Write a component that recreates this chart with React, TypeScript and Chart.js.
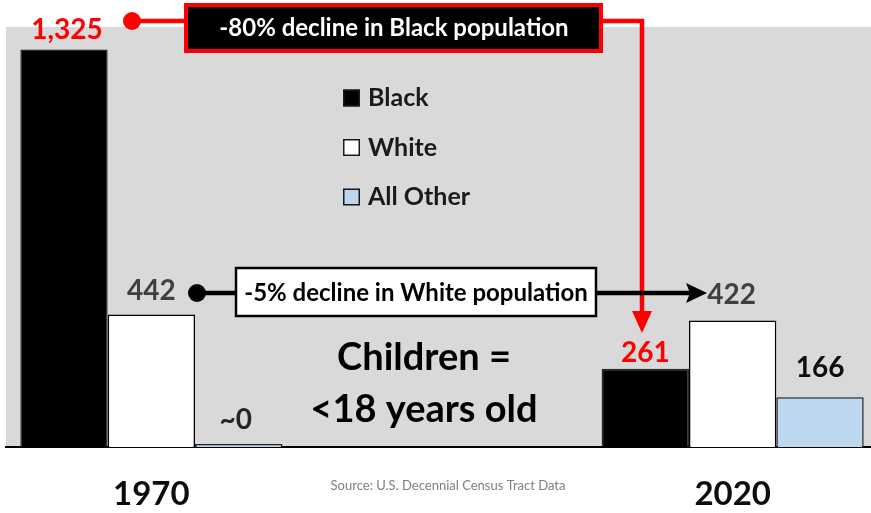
import React, { useEffect, useRef } from 'react';
import { Chart, registerables } from 'chart.js';

Chart.register(...registerables);

// ---------- data ----------
const categories = ['1970', '', '2020'];
const seriesNames = ['Black', 'White', 'All Other'];
const blackValues = [1325, null, 261];
const whiteValues = [442, null, 422];
const otherValues = [10, null, 166];
const blackValueLabels = ['1,325', '', '261'];
const whiteValueLabels = ['442', '', '422'];
const otherValueLabels = ['~0', '', '166'];
const blackDeclineText = '-80% decline in Black population';
const whiteDeclineText = '-5% decline in White population';
const noteLines = ['Children =', '<18 years old'];
const sourceText = 'Source: U.S. Decennial Census Tract Data';
const yMax = 1400;

// ---------- style ----------
const FONT = 'Lato, "Open Sans", sans-serif';
const fills = ['#000000', '#ffffff', '#bdd7ee'];
const borders = ['#262626', '#000000', '#1f1f1f'];
const labelColors = [
  ['#ff0000', '', '#ff0000'],
  ['#404040', '', '#404040'],
  ['#262626', '', '#0d0d0d'],
];
const labelDy = [
  [-20, 0, -16],
  [-23, 0, -25],
  [-24, 0, -29],
];
const labelDx = [
  [3, 0, 0],
  [0, 0, -1],
  [-3, 0, 0],
];

function arrowHead(ctx: CanvasRenderingContext2D, pts: number[][], color: string) {
  ctx.fillStyle = color;
  ctx.beginPath();
  ctx.moveTo(pts[0][0], pts[0][1]);
  for (let i = 1; i < pts.length; i++) ctx.lineTo(pts[i][0], pts[i][1]);
  ctx.closePath();
  ctx.fill();
}

const overlayPlugin = {
  id: 'overlay',
  beforeDraw(chart: any) {
    const { ctx, chartArea: a } = chart;
    ctx.save();
    ctx.fillStyle = '#ffffff';
    ctx.fillRect(0, 0, chart.width, chart.height);
    ctx.fillStyle = '#d9d9d9';
    ctx.fillRect(a.left, a.top, a.right - a.left, a.bottom - a.top);
    ctx.restore();
  },
  afterDatasetsDraw(chart: any) {
    const { ctx } = chart;
    const valueLabels = [blackValueLabels, whiteValueLabels, otherValueLabels];
    ctx.save();
    ctx.textAlign = 'center';
    ctx.textBaseline = 'middle';
    ctx.font = `bold 28px ${FONT}`;
    chart.data.datasets.forEach((_ds: any, di: number) => {
      const meta = chart.getDatasetMeta(di);
      meta.data.forEach((bar: any, i: number) => {
        const txt = valueLabels[di][i];
        if (!txt) return;
        ctx.fillStyle = labelColors[di][i];
        ctx.fillText(txt, bar.x + labelDx[di][i], bar.y + labelDy[di][i]);
      });
    });
    ctx.restore();
  },
  afterDraw(chart: any) {
    const { ctx } = chart;
    ctx.save();

    // red annotation
    const red = '#ff0000';
    ctx.strokeStyle = red;
    ctx.fillStyle = red;
    ctx.lineWidth = 4.5;
    ctx.lineJoin = 'miter';
    ctx.beginPath();
    ctx.arc(132, 21, 9, 0, Math.PI * 2);
    ctx.fill();
    ctx.beginPath();
    ctx.moveTo(132, 21);
    ctx.lineTo(186, 21);
    ctx.stroke();
    ctx.beginPath();
    ctx.moveTo(600, 21);
    ctx.lineTo(642, 21);
    ctx.lineTo(642, 314);
    ctx.stroke();
    arrowHead(ctx, [[632, 311], [652, 311], [642, 333]], red);
    ctx.fillStyle = '#000000';
    ctx.fillRect(186, 5, 415, 46);
    ctx.lineWidth = 4;
    ctx.strokeRect(186, 5, 415, 46);
    ctx.fillStyle = '#ffffff';
    ctx.font = `bold 24px ${FONT}`;
    ctx.textAlign = 'center';
    ctx.textBaseline = 'middle';
    ctx.fillText(blackDeclineText, 394, 28);

    // black annotation
    ctx.strokeStyle = '#000000';
    ctx.fillStyle = '#000000';
    ctx.lineWidth = 4.5;
    ctx.beginPath();
    ctx.arc(197, 293, 9, 0, Math.PI * 2);
    ctx.fill();
    ctx.beginPath();
    ctx.moveTo(197, 293);
    ctx.lineTo(236, 293);
    ctx.stroke();
    ctx.beginPath();
    ctx.moveTo(596, 293);
    ctx.lineTo(692, 293);
    ctx.stroke();
    arrowHead(ctx, [[686, 283], [707, 293], [686, 303], [690, 293]], '#000000');
    ctx.fillStyle = '#ffffff';
    ctx.fillRect(236, 268, 360, 48);
    ctx.lineWidth = 2.5;
    ctx.strokeRect(236, 268, 360, 48);
    ctx.fillStyle = '#000000';
    ctx.font = `bold 24px ${FONT}`;
    ctx.fillText(whiteDeclineText, 416, 293);

    // children note
    ctx.font = `bold 38px ${FONT}`;
    ctx.fillStyle = '#000000';
    ctx.fillText(noteLines[0], 424, 358);
    ctx.fillText(noteLines[1], 424, 410);

    // legend
    ctx.font = `bold 25px ${FONT}`;
    ctx.textAlign = 'left';
    seriesNames.forEach((name, i) => {
      const cy = 98 + i * 49.5;
      ctx.fillStyle = fills[i];
      ctx.fillRect(343, cy - 8.5, 17, 17);
      ctx.strokeStyle = '#1a1a1a';
      ctx.lineWidth = 1.5;
      ctx.strokeRect(343.75, cy - 7.75, 15.5, 15.5);
      ctx.fillStyle = '#1a1a1a';
      ctx.fillText(name, 368, cy);
    });

    // source
    ctx.textAlign = 'center';
    ctx.font = `13px ${FONT}`;
    ctx.fillStyle = '#7f7f7f';
    ctx.fillText(sourceText, 448, 486);

    ctx.restore();
  },
};

export default function App() {
  const ref = useRef<HTMLCanvasElement | null>(null);

  useEffect(() => {
    if (!ref.current) return;
    const makeDs = (label: string, data: (number | null)[], i: number) => ({
      label,
      data,
      backgroundColor: fills[i],
      borderColor: borders[i],
      borderWidth: 1.5,
      borderSkipped: 'bottom' as const,
      categoryPercentage: 0.9015,
      barPercentage: 1.0,
    });
    const chart = new Chart(ref.current, {
      type: 'bar',
      data: {
        labels: categories,
        datasets: [
          makeDs(seriesNames[0], blackValues, 0),
          makeDs(seriesNames[1], whiteValues, 1),
          makeDs(seriesNames[2], otherValues, 2),
        ],
      },
      options: {
        responsive: false,
        animation: false,
        devicePixelRatio: 1,
        layout: { padding: { left: 6, right: 0, top: 27, bottom: 0 } },
        plugins: {
          legend: { display: false },
          tooltip: { enabled: false },
          title: { display: false },
        },
        scales: {
          x: {
            z: 1,
            grid: { display: false, drawTicks: false },
            border: { display: true, color: '#000000', width: 2 },
            ticks: {
              padding: 28,
              color: '#0d0d0d',
              font: { family: FONT, size: 33, weight: 'bold' },
            },
            afterFit: (scale: any) => {
              scale.height = 66;
            },
          },
          y: {
            display: false,
            min: 0,
            max: yMax,
          },
        },
      },
      plugins: [overlayPlugin],
    });
    return () => chart.destroy();
  }, []);

  return (
    <div
      style={{
        position: 'fixed',
        left: 0,
        top: 0,
        width: 871,
        height: 513,
        overflow: 'hidden',
        background: '#ffffff',
      }}
    >
      <canvas ref={ref} width={878} height={513} style={{ display: 'block' }} />
    </div>
  );
}
